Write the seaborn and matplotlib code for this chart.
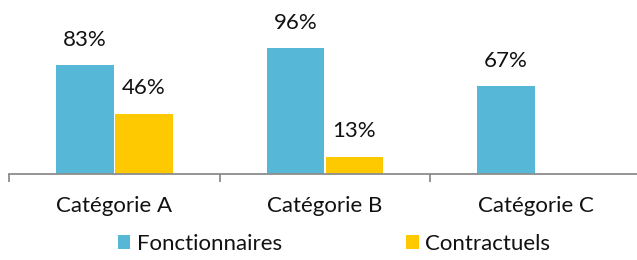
import matplotlib
matplotlib.use("Agg")
import matplotlib.pyplot as plt
import seaborn as sns
import pandas as pd
import numpy as np
from matplotlib.patches import Patch

categories = ["Catégorie A", "Catégorie B", "Catégorie C"]
series = ["Fonctionnaires", "Contractuels"]
fonctionnaires = [83, 96, 67]
contractuels = [46, 13, np.nan]
colors = ["#56B8D6", "#FFC901"]

df = pd.DataFrame({
    "cat": categories * 2,
    "serie": [series[0]] * 3 + [series[1]] * 3,
    "val": fonctionnaires + contractuels,
})

sns.set_theme(style="white")
plt.rcParams["font.family"] = ["Lato", "DejaVu Sans"]

fig = plt.figure(figsize=(6.37, 2.60), dpi=100)
ax = fig.add_axes([9 / 637, 86 / 260, 632 / 637, 131 / 260])

sns.barplot(data=df, x="cat", y="val", hue="serie", palette=colors,
            width=0.56, gap=0.02, ax=ax, legend=False, saturation=1,
            edgecolor="none")

ax.set_ylim(0, 100)
ax.set_xlim(-0.5, 2.5)
ax.set_xlabel("")
ax.set_ylabel("")
ax.set_yticks([])
for s in ["top", "right", "left"]:
    ax.spines[s].set_visible(False)
ax.spines["bottom"].set_color("#8c8c8c")
ax.spines["bottom"].set_linewidth(1.3)

fs = 16
ax.set_xticks(range(3))
ax.set_xticklabels(categories, fontsize=fs, color="#111111")
ax.tick_params(axis="x", which="major", length=0, pad=16)
ax.set_xticks([-0.5, 0.5, 1.5, 2.5], minor=True)
ax.tick_params(axis="x", which="minor", length=6, width=1.3, color="#8c8c8c",
               direction="out", bottom=True)

for cont in ax.containers:
    for bar in cont:
        h = bar.get_height()
        if np.isnan(h):
            continue
        ax.annotate(f"{int(h)}%", (bar.get_x() + bar.get_width() / 2, h),
                    xytext=(0, 18.5), textcoords="offset points",
                    ha="center", va="center", fontsize=fs, color="#111111")

handles = [Patch(facecolor=c, edgecolor="none") for c in colors]
fig.legend(handles, series, loc="center", bbox_to_anchor=(334 / 637, 16 / 260),
           ncol=2, frameon=False, fontsize=fs, handlelength=0.55,
           handleheight=0.55, handletextpad=0.3, columnspacing=5.6,
           labelcolor="#111111")

fig.savefig("out.png", dpi=100)
